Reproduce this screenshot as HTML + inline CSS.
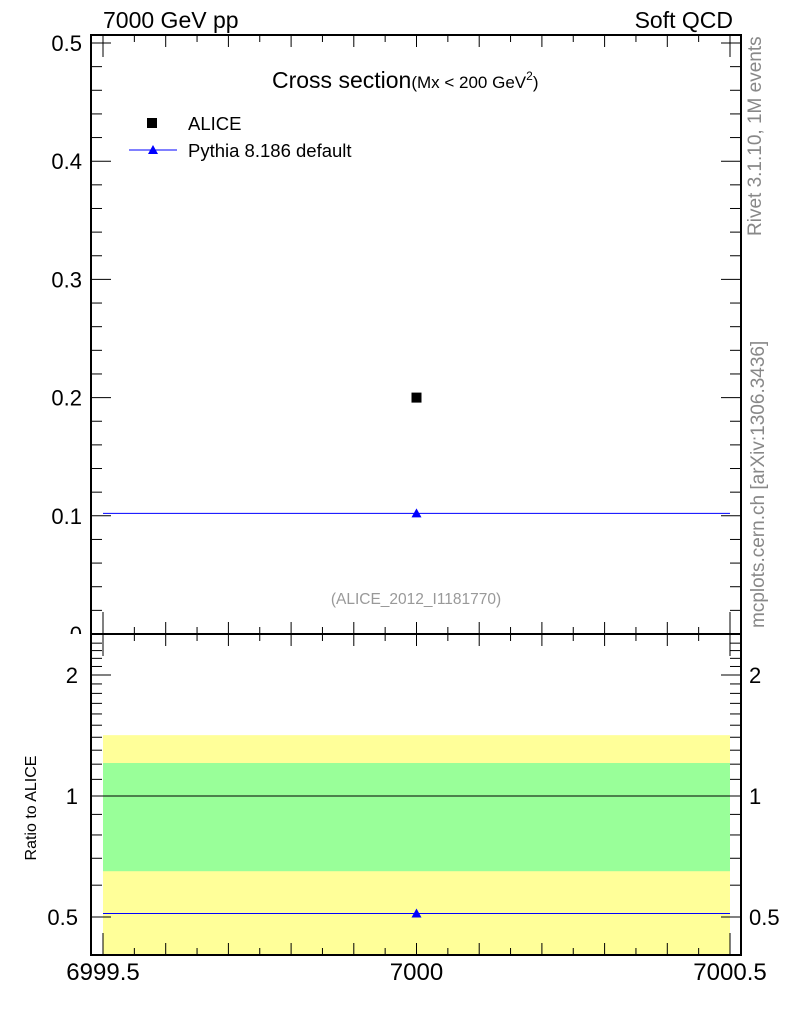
<!DOCTYPE html>
<html><head><meta charset="utf-8"><style>
body{margin:0;background:#fff;font-family:"Liberation Sans",sans-serif}
svg text{font-family:"Liberation Sans",sans-serif}
</style></head><body>
<svg id="c" width="786" height="1024" xmlns="http://www.w3.org/2000/svg">
<defs><clipPath id="topclip"><rect x="0" y="0" width="90" height="634"/></clipPath></defs>
<text x="103" y="28" font-size="23">7000 GeV pp</text>
<text x="733" y="28" font-size="23" text-anchor="end">Soft QCD</text>
<text x="272" y="88" font-size="23">Cross section<tspan font-size="17">(Mx &lt; 200 GeV</tspan><tspan font-size="12" dy="-8">2</tspan><tspan font-size="17" dy="8">)</tspan></text>
<rect x="147" y="118" width="10" height="10" fill="#000"/>
<text x="188" y="130" font-size="18.5">ALICE</text>
<line x1="129" y1="150" x2="177" y2="150" stroke="#00f"/>
<polygon points="153,145 148,154 158,154" fill="#00f"/>
<text x="188" y="157" font-size="18.5">Pythia 8.186 default</text>
<text x="416" y="604" font-size="15.5" fill="#999" text-anchor="middle">(ALICE_2012_I1181770)</text>
<text transform="translate(761,236) rotate(-90)" font-size="19" fill="#888">Rivet 3.1.10,  1M events</text>
<text transform="translate(764,628) rotate(-90)" font-size="19" fill="#888">mcplots.cern.ch [arXiv:1306.3436]</text>
<text transform="translate(36,808) rotate(-90)" font-size="16" text-anchor="middle">Ratio to ALICE</text>
<g id="g"></g>
</svg>
<script>
const xVals=[7000];
const aliceVals=[0.2];
const pythiaVals=[0.102];
const bandGreen=[0.65,1.208];
const bandYellow=[0.38,1.417];
const mainTicks=[0,0.1,0.2,0.3,0.4,0.5];
const ratioTicks=[0.5,1,2];
const xTicks=[6999.5,7000,7000.5];
const NS="http://www.w3.org/2000/svg";
const g=document.getElementById('g');
const L=91,R=741,T=35,M=634,B=955;
const X=v=>103+(v-6999.5)*627;
const Y=v=>634-v*1182;
const RY=v=>796-Math.log10(v)*402;
function mk(t,a){const e=document.createElementNS(NS,t);for(const k in a)e.setAttribute(k,a[k]);g.appendChild(e);return e;}
let e;
e=mk('rect',{x:X(6999.5),y:RY(bandYellow[1]),width:X(7000.5)-X(6999.5),height:B-RY(bandYellow[1]),fill:'#ffff99'});

e=mk('rect',{x:X(6999.5),y:RY(bandGreen[1]),width:X(7000.5)-X(6999.5),height:RY(bandGreen[0])-RY(bandGreen[1]),fill:'#99ff99'});

e=mk('line',{x1:L,x2:R,y1:RY(1),y2:RY(1),stroke:'#000'});

e=mk('rect',{x:L,y:T,width:R-L,height:M-T,fill:'none',stroke:'#000','stroke-width':2});

e=mk('rect',{x:L,y:M,width:R-L,height:B-M,fill:'none',stroke:'#000','stroke-width':2});

for(let v=0;v<=0.5001;v+=0.02){const big=Math.abs(v*10-Math.round(v*10))<1e-6;const y=Y(v);const l=big?20:11;
e=mk('line',{x1:L,x2:L+l,y1:y,y2:y,stroke:'#000'});
e=mk('line',{x1:R,x2:R-l,y1:y,y2:y,stroke:'#000'});}
mainTicks.forEach(v=>{e=mk('text',{x:82,y:Y(v)+8,'font-size':22,'text-anchor':'end'});e.textContent=v===0?'0':v.toFixed(1);
if(v===0)e.setAttribute('clip-path','url(#topclip)');
});
for(let v=0.4;v<=2.5;v+=0.1){const y=RY(v);if(y<M||y>B)continue;const big=ratioTicks.some(t=>Math.abs(t-v)<1e-6);const l=big?20:11;
e=mk('line',{x1:L,x2:L+l,y1:y,y2:y,stroke:'#000'});
e=mk('line',{x1:R,x2:R-l,y1:y,y2:y,stroke:'#000'});}
ratioTicks.forEach(v=>{e=mk('text',{x:78,y:RY(v)+8,'font-size':22,'text-anchor':'end'});e.textContent=String(v);

e=mk('text',{x:749,y:RY(v)+8,'font-size':22});e.textContent=String(v);
});
for(let v=6999.5;v<=7000.5001;v+=0.05){const x=X(v);const end=Math.abs(v-6999.5)<1e-6||Math.abs(v-7000.5)<1e-6;const mid=Math.abs(v*10-Math.round(v*10))<1e-6;const l=end?22:(mid?12:7);
[[T,1],[M,-1],[M,1],[B,-1]].forEach(([y0,d])=>{e=mk('line',{x1:x,x2:x,y1:y0,y2:y0+d*l,stroke:'#000'});});}
xTicks.forEach(v=>{e=mk('text',{x:X(v),y:980,'font-size':24,'text-anchor':'middle'});e.textContent=String(v);
});
aliceVals.forEach((v,i)=>{e=mk('rect',{x:X(xVals[i])-5,y:Y(v)-5,width:10,height:10,fill:'#000'});});
pythiaVals.forEach((v,i)=>{const y=Y(v);
e=mk('line',{x1:X(6999.5),x2:X(7000.5),y1:y,y2:y,stroke:'#00f'});
const x=X(xVals[i]);e=mk('polygon',{points:`${x},${y-5} ${x-5},${y+4} ${x+5},${y+4}`,fill:'#00f'});
const r=v/aliceVals[i];const ry=RY(r);
e=mk('line',{x1:X(6999.5),x2:X(7000.5),y1:ry,y2:ry,stroke:'#00f'});
e=mk('polygon',{points:`${x},${ry-5} ${x-5},${ry+4} ${x+5},${ry+4}`,fill:'#00f'});});
</script>
</body></html>
